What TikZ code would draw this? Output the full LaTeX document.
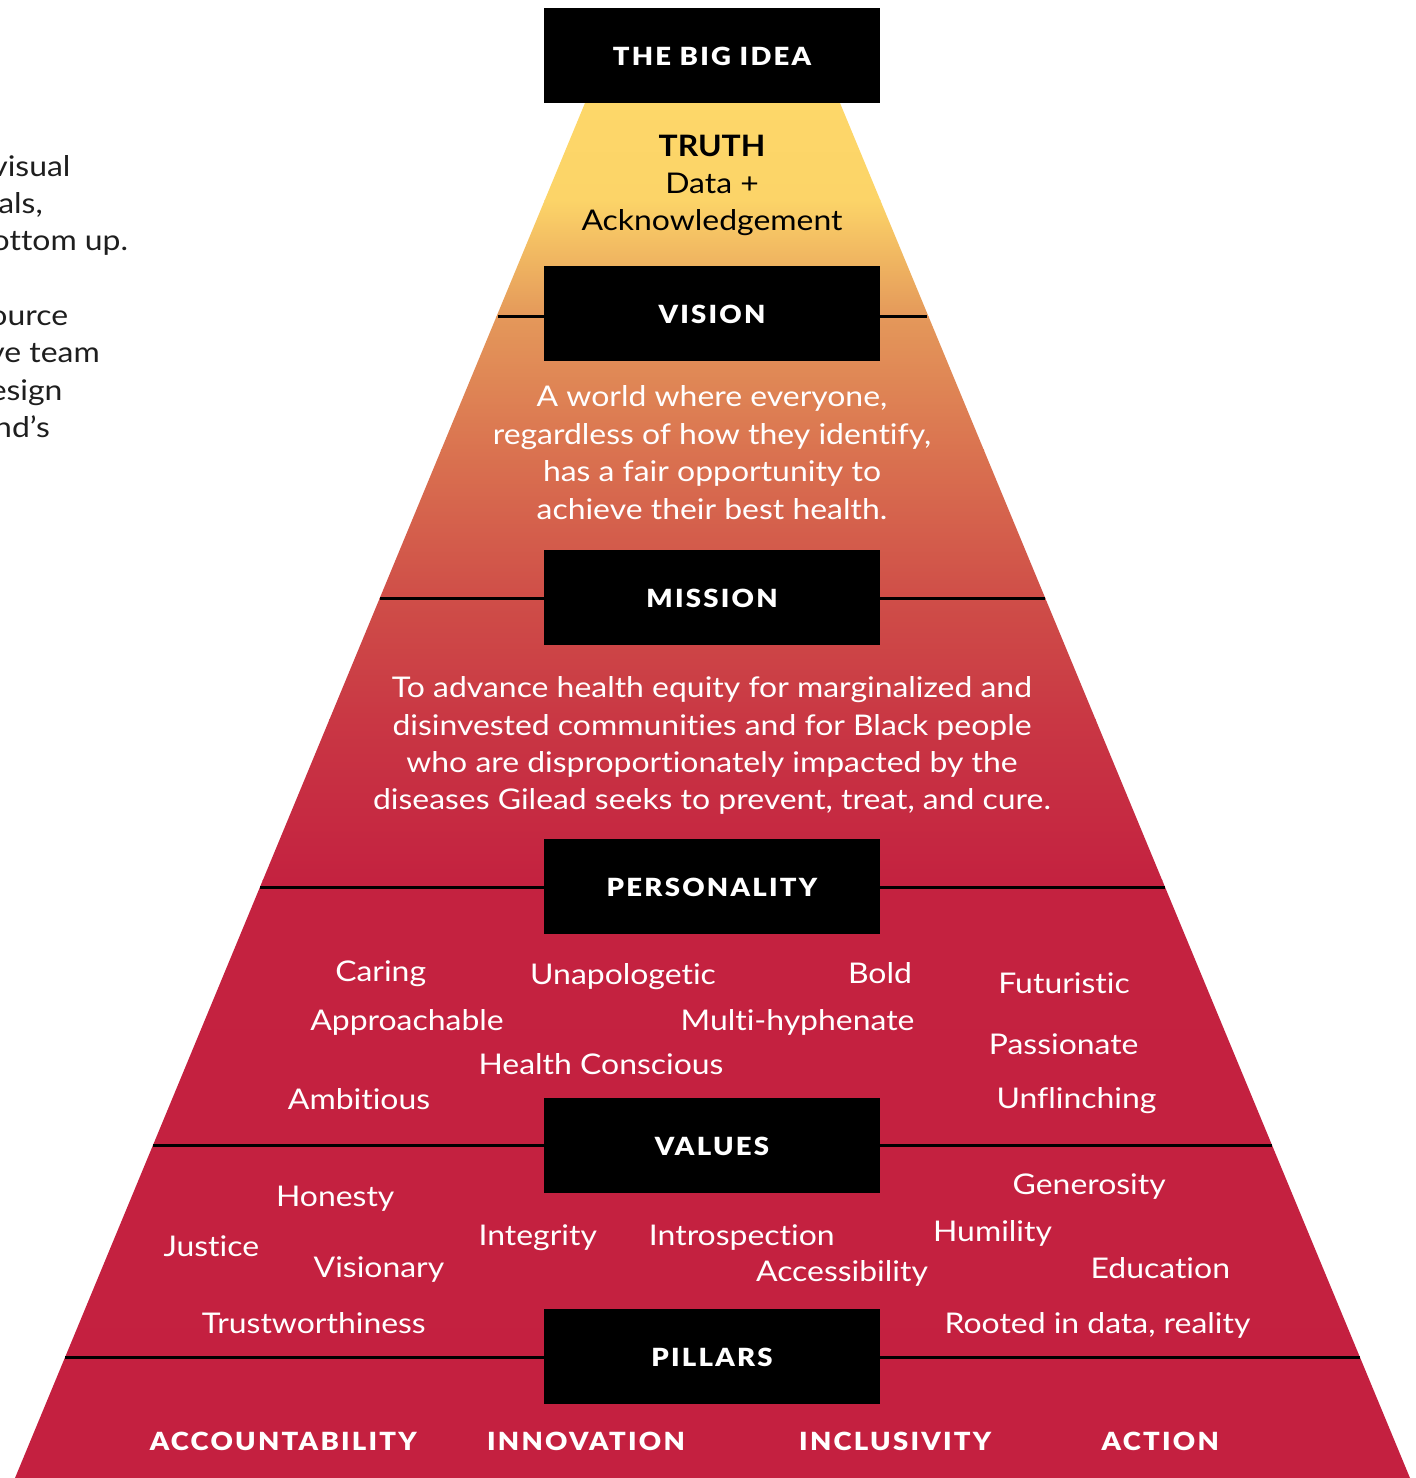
\documentclass[tikz,border=0pt]{standalone}
\usepackage{fontspec}
\setmainfont[FakeStretch=1.12, Ligatures=NoCommon]{Lato}
\IfFontExistsTF{Lato Black}{\newfontfamily\labelfont[LetterSpace=9, FakeStretch=1.1]{Lato Black}}{\newfontfamily\labelfont[LetterSpace=9, FakeStretch=1.1]{Lato}[BoldFont=*]}
\IfFontExistsTF{Lato Bold}{\newfontfamily\boldbody[FakeStretch=1.08]{Lato Bold}}{\newfontfamily\boldbody[FakeStretch=1.08]{Lato}}
\definecolor{gA}{RGB}{253,215,105}
\definecolor{gB}{RGB}{252,212,104}
\definecolor{gC}{RGB}{228,152,90}
\definecolor{gD}{RGB}{218,115,80}
\definecolor{gE}{RGB}{207,78,72}
\definecolor{gF}{RGB}{201,55,68}
\definecolor{gG}{RGB}{196,34,64}
\definecolor{gH}{RGB}{196,32,64}
\definecolor{sidegray}{RGB}{30,30,30}
\tikzset{
  labelbox/.style={fill=black, minimum width=336pt, minimum height=95pt, inner sep=0pt,
    text=white, font=\labelfont\fontsize{25}{25}\selectfont, text height=20pt, text depth=0pt},
  sepline/.style={line width=3pt, draw=black},
  bodytext/.style={text=white, font=\fontsize{28.5}{37.5}\selectfont, inner sep=0pt, anchor=base},
  darktext/.style={text=black, font=\fontsize{28.5}{37.5}\selectfont, inner sep=0pt, anchor=base},
  pillartext/.style={text=white, font=\labelfont\fontsize{25}{25}\selectfont, inner sep=0pt, anchor=base},
  sidetext/.style={text=sidegray, font=\fontsize{28.5}{37.5}\selectfont, inner sep=0pt, anchor=base east},
}
\begin{document}
\begin{tikzpicture}[x=1pt,y=-1pt]
\useasboundingbox (0,0) rectangle (1416,1478);
% pyramid with vertical gradient
\begin{scope}
  \clip (585,103) -- (840,103) -- (1410,1478) -- (15,1478) -- cycle;
  \shade[top color=gA, bottom color=gB] (0,103) rectangle (1416,200);
  \shade[top color=gB, bottom color=gC] (0,199.5) rectangle (1416,317);
  \shade[top color=gC, bottom color=gD] (0,316.5) rectangle (1416,450);
  \shade[top color=gD, bottom color=gE] (0,449.5) rectangle (1416,598);
  \shade[top color=gE, bottom color=gF] (0,597.5) rectangle (1416,720);
  \shade[top color=gF, bottom color=gG] (0,719.5) rectangle (1416,880);
  \shade[top color=gG, bottom color=gH] (0,879.5) rectangle (1416,1478);
\end{scope}
% edge coordinates
\coordinate (L1) at (497.7,316.5);  \coordinate (R1) at (927.3,316.5);
\coordinate (L2) at (380.0,598);    \coordinate (R2) at (1045.0,598);
\coordinate (L3) at (260.2,887);    \coordinate (R3) at (1164.8,887);
\coordinate (L4) at (152.8,1145.5); \coordinate (R4) at (1272.2,1145.5);
\coordinate (L5) at (65.4,1357);    \coordinate (R5) at (1359.6,1357);
\draw[sepline] (L1) -- (R1);
\draw[sepline] (L2) -- (R2);
\draw[sepline] (L3) -- (R3);
\draw[sepline] (L4) -- (R4);
\draw[sepline] (L5) -- (R5);
% label boxes
\node[labelbox] (bigidea) at (712,55.5) {THE BIG IDEA};
\node[labelbox] (vision) at (712,313.5) {VISION};
\node[labelbox] (mission) at (712,597.5) {MISSION};
\node[labelbox] (personality) at (712,886.5) {PERSONALITY};
\node[labelbox] (values) at (712,1145.5) {VALUES};
\node[labelbox] (pillars) at (712,1356.5) {PILLARS};
% truth
\node[darktext, font=\boldbody\fontsize{29.5}{37.5}\selectfont] (truth) at (712,156.7) {TRUTH};
\node[darktext] (data) at (712,193.3) {Data +};
\node[darktext] (ack) at (712,230) {Acknowledgement};
% vision text
\node[bodytext] (v1) at (712,406.7) {A world where everyone,};
\node[bodytext] (v2) at (712,444) {regardless of how they identify,};
\node[bodytext] (v3) at (712,481.7) {has a fair opportunity to};
\node[bodytext] (v4) at (712,519) {achieve their best health.};
% mission text
\node[bodytext] (m1) at (712,697.3) {To advance health equity for marginalized and};
\node[bodytext] (m2) at (712,735) {disinvested communities and for Black people};
\node[bodytext] (m3) at (712,772.3) {who are disproportionately impacted by the};
\node[bodytext] (m4) at (712,809.3) {diseases Gilead seeks to prevent, treat, and cure.};
% personality words
\node[bodytext] (caring) at (380.7,981.7) {Caring};
\node[bodytext] (unapol) at (623,984) {Unapologetic};
\node[bodytext] (bold) at (880,983.3) {Bold};
\node[bodytext] (futur) at (1064,993.3) {Futuristic};
\node[bodytext] (approach) at (407,1030) {Approachable};
\node[bodytext] (multi) at (797.5,1030) {Multi-hyphenate};
\node[bodytext] (passion) at (1063.7,1054.3) {Passionate};
\node[bodytext] (health) at (601,1074.3) {Health Conscious};
\node[bodytext] (ambit) at (359,1109.3) {Ambitious};
\node[bodytext] (unflinch) at (1076.5,1108.3) {Unflinching};
% values words
\node[bodytext] (honesty) at (335.2,1206) {Honesty};
\node[bodytext] (generosity) at (1089.2,1194) {Generosity};
\node[bodytext] (justice) at (211.3,1256) {Justice};
\node[bodytext] (integrity) at (537.8,1245.7) {Integrity};
\node[bodytext] (introspection) at (741.8,1245.7) {Introspection};
\node[bodytext] (humility) at (992.5,1241) {Humility};
\node[bodytext] (visionary) at (379,1277.3) {Visionary};
\node[bodytext] (access) at (842,1281.7) {Accessibility};
\node[bodytext] (education) at (1160.3,1278.3) {Education};
\node[bodytext] (trust) at (313.8,1333.3) {Trustworthiness};
\node[bodytext] (rooted) at (1097.5,1333.3) {Rooted in data, reality};
% pillars
\node[pillartext] (p1) at (283.3,1450.5) {ACCOUNTABILITY};
\node[pillartext] (p2) at (586,1450.5) {INNOVATION};
\node[pillartext] (p3) at (895.3,1450.5) {INCLUSIVITY};
\node[pillartext] (p4) at (1160.3,1450.5) {ACTION};
% cut-off side text
\node[sidetext] (s1) at (70.7,176.7) {visual};
\node[sidetext] (s2) at (43,213.3) {als,};
\node[sidetext] (s3) at (128.3,250.7) {ottom up.};
\node[sidetext] (s4) at (68.3,325) {ource};
\node[sidetext] (s5) at (100,362.7) {ve team};
\node[sidetext] (s6) at (62.7,400) {esign};
\node[sidetext] (s7) at (50,437) {nd’s};
\end{tikzpicture}
\end{document}
